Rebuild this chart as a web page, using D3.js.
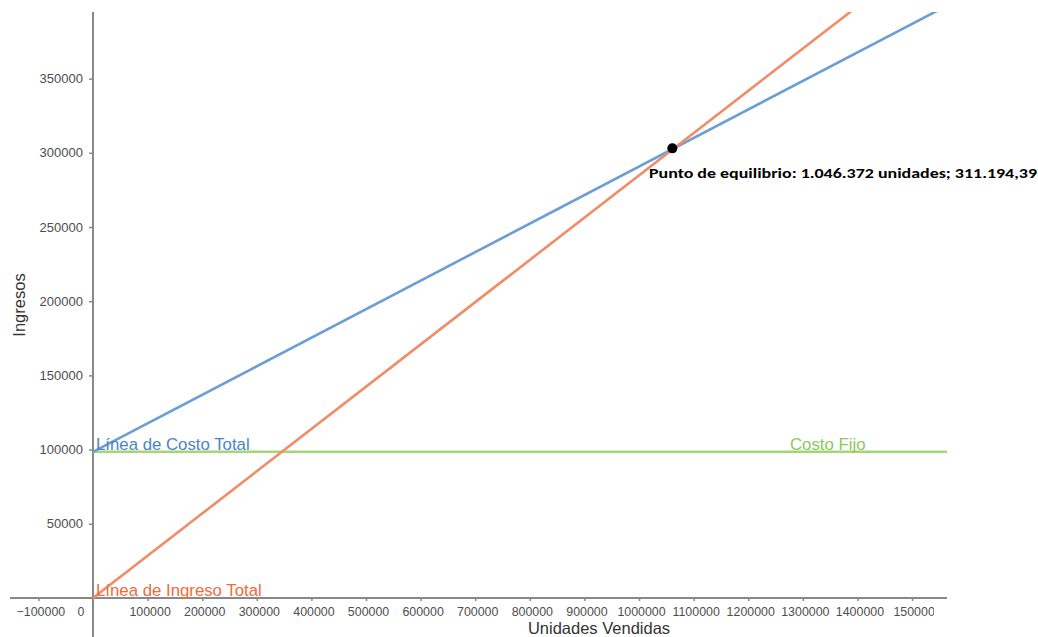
<!DOCTYPE html>
<html><head><meta charset="utf-8">
<script src="https://cdn.jsdelivr.net/npm/d3@7"></script>
<style>body{margin:0;background:#fff}svg{display:block}</style>
</head><body><svg id="c" width="1038" height="637"></svg>
<script>
// Data
const costoTotalX = [0, 1560000];
const costoTotalY = [98500, 398400];
const ingresoTotalX = [0, 1400000];
const ingresoTotalY = [0, 398700];
const costoFijoX = [0, 1564000];
const costoFijoY = [98500, 98500];
const equilibrio = [1061000, 303000];
const equilibrioLabel = "Punto de equilibrio: 1.046.372 unidades; 311.194,39";
const xTicks = [-100000, 0, 100000, 200000, 300000, 400000, 500000, 600000, 700000, 800000, 900000, 1000000, 1100000, 1200000, 1300000, 1400000, 1500000];
const yTicks = [50000, 100000, 150000, 200000, 250000, 300000, 350000];

const svg = d3.select("#c");
const x = d3.scaleLinear().domain([-152000, 1564000]).range([10, 947]);
const y = d3.scaleLinear().domain([-26300, 394900]).range([637, 12]);

const defs = svg.append("defs");
defs.append("clipPath").attr("id", "plot").append("rect")
  .attr("x", 10).attr("y", 12).attr("width", 937).attr("height", 625);
defs.append("clipPath").attr("id", "xlab").append("rect")
  .attr("x", 0).attr("y", 580).attr("width", 934).attr("height", 57);

const fmt = d => d3.format("d")(d).replace("-", "\u2212");

// X axis
const gx = svg.append("g").attr("clip-path", "url(#xlab)")
  .append("g").attr("transform", `translate(0,${y(0)})`)
  .call(d3.axisBottom(x).tickValues(xTicks).tickSize(3).tickPadding(6).tickFormat(fmt));
gx.select(".domain").remove();
gx.selectAll(".tick line").attr("stroke", "#888").attr("stroke-width", 1.5);
gx.selectAll(".tick text").attr("fill", "#4d4d4d").attr("font-family", "Liberation Sans, Arial, sans-serif")
  .attr("font-size", 12.4).attr("dx", 2);
gx.selectAll(".tick").filter(d => d === 1500000).select("text").attr("dx", 5);
gx.selectAll(".tick").filter(d => d === 0).select("text").attr("text-anchor", "end").attr("dx", -9);
gx.selectAll(".tick").filter(d => d === 0).select("line").remove();
svg.append("line").attr("x1", 10).attr("x2", 947).attr("y1", y(0)).attr("y2", y(0))
  .attr("stroke", "#888").attr("stroke-width", 2);

// Y axis
const gy = svg.append("g").attr("transform", `translate(${x(0)},0)`)
  .call(d3.axisLeft(y).tickValues(yTicks).tickSize(4).tickPadding(6).tickFormat(fmt));
gy.select(".domain").remove();
gy.selectAll(".tick line").attr("stroke", "#888").attr("stroke-width", 1.5);
gy.selectAll(".tick text").attr("fill", "#4d4d4d").attr("font-family", "Liberation Sans, Arial, sans-serif")
  .attr("font-size", 13);
svg.append("line").attr("x1", x(0)).attr("x2", x(0)).attr("y1", 12).attr("y2", 637)
  .attr("stroke", "#888").attr("stroke-width", 2);

// Axis titles
svg.append("text").attr("x", 599).attr("y", 634).attr("text-anchor", "middle")
  .attr("font-family", "Liberation Sans, Arial, sans-serif").attr("font-size", 16.5).attr("fill", "#333")
  .text("Unidades Vendidas");
svg.append("text").attr("transform", "translate(25,305) rotate(-90)").attr("text-anchor", "middle")
  .attr("font-family", "Liberation Sans, Arial, sans-serif").attr("font-size", 16.5).attr("fill", "#333")
  .text("Ingresos");

// Lines
const plot = svg.append("g").attr("clip-path", "url(#plot)");
const line = d3.line().x(d => x(d[0])).y(d => y(d[1]));
const series = [
  {xs: costoFijoX, ys: costoFijoY, color: "#a5d57a"},
  {xs: costoTotalX, ys: costoTotalY, color: "#6b9fd3"},
  {xs: ingresoTotalX, ys: ingresoTotalY, color: "#f08c68"}
];
series.forEach(s => {
  plot.append("path").datum(s.xs.map((v, i) => [v, s.ys[i]]))
    .attr("d", line).attr("fill", "none").attr("stroke", s.color).attr("stroke-width", 2.6);
});

// Line labels
const lf = "Liberation Sans, Arial, sans-serif";
svg.append("text").attr("x", x(0) + 3).attr("y", y(costoTotalY[0]) - 2).attr("font-family", lf)
  .attr("font-size", 16.8).attr("fill", "#4d83c4").text("Línea de Costo Total");
svg.append("text").attr("x", x(0) + 3).attr("y", y(0) - 2).attr("font-family", lf)
  .attr("font-size", 16.8).attr("fill", "#f26a3a").text("Línea de Ingreso Total");
svg.append("text").attr("x", 790).attr("y", y(costoFijoY[0]) - 2).attr("font-family", lf)
  .attr("font-size", 16.8).attr("fill", "#8cc95a").text("Costo Fijo");

// Break-even point
svg.append("circle").attr("cx", x(equilibrio[0])).attr("cy", y(equilibrio[1])).attr("r", 5).attr("fill", "#000");
svg.append("text").attr("x", 649).attr("y", 178).attr("font-family", "Carlito, 'Open Sans', sans-serif")
  .attr("font-weight", "bold").attr("font-size", 14.5).attr("fill", "#000")
  .attr("textLength", 388).attr("lengthAdjust", "spacingAndGlyphs").text(equilibrioLabel);
</script></body></html>
